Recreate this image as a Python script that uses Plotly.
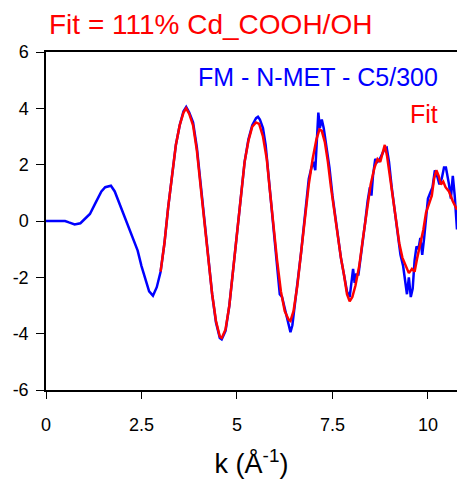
import plotly.graph_objects as go

# measured chi(k) - blue
k_data = [0.0, 0.5, 0.6, 0.75, 0.9, 1.0, 1.15, 1.3, 1.45, 1.55, 1.7, 1.8, 1.9, 2.0, 2.1, 2.2,
          2.3, 2.4, 2.5, 2.6, 2.7, 2.8, 2.9, 3.0, 3.1, 3.2, 3.3, 3.4, 3.5, 3.6, 3.67, 3.75,
          3.85, 3.95, 4.05, 4.15, 4.25, 4.35, 4.45, 4.55, 4.6, 4.7, 4.8, 4.9, 5.0, 5.1, 5.2,
          5.3, 5.4, 5.5, 5.55, 5.6, 5.68, 5.75, 5.82, 5.9, 5.98, 6.05, 6.12, 6.18, 6.25, 6.32,
          6.4, 6.45, 6.52, 6.6, 6.68, 6.75, 6.8, 6.88, 6.95, 7.0, 7.05, 7.1, 7.13, 7.17, 7.22,
          7.27, 7.35, 7.42, 7.5, 7.57, 7.65, 7.72, 7.8, 7.88, 7.95, 8.0, 8.04, 8.08, 8.12, 8.18,
          8.25, 8.3, 8.36, 8.42, 8.48, 8.52, 8.56, 8.62, 8.68, 8.74, 8.8, 8.86, 8.92, 8.98, 9.05,
          9.12, 9.2, 9.28, 9.35, 9.4, 9.45, 9.5, 9.55, 9.6, 9.65, 9.7, 9.75, 9.8, 9.85, 9.9,
          9.95, 10.0, 10.06, 10.12, 10.18, 10.24, 10.3, 10.36, 10.42, 10.47, 10.55, 10.6, 10.65,
          10.7, 10.76]
chi_data = [0, 0, -0.05, -0.12, -0.08, 0.05, 0.25, 0.65, 1.05, 1.2, 1.25, 1.05, 0.7, 0.35, 0.0, -0.35,
            -0.7, -1.05, -1.6, -2.1, -2.5, -2.65, -2.35, -1.8, -0.8, 0.5, 1.7, 2.7, 3.4, 3.9, 4.05, 3.85,
            3.5, 2.6, 1.3, 0.0, -1.3, -2.6, -3.6, -4.15, -4.2, -3.9, -3.0, -1.7, -0.3, 1.0, 2.1,
            2.9, 3.4, 3.65, 3.7, 3.6, 3.3, 2.7, 1.7, 0.5, -0.7, -1.8, -2.6, -2.7, -3.1, -3.6,
            -3.95, -3.7, -3.0, -2.0, -1.1, -0.2, 0.6, 1.5, 1.9, 2.1, 1.8, 3.5, 3.85, 3.3, 3.6,
            3.3, 2.6, 1.9, 0.9, 0.2, -0.7, -1.3, -1.9, -2.5, -2.7, -2.2, -1.7, -2.2, -1.9, -1.9,
            -1.2, -0.6, 0.0, 0.7, 1.2, 0.9, 1.6, 2.2, 2.1, 2.2, 2.4, 2.55, 2.6, 2.1, 1.2,
            0.4, -0.5, -1.2, -1.6, -2.1, -2.6, -2.0, -2.7, -2.4, -1.4, -0.9, -1.0, -0.6, -1.2, -0.6,
            0.2, 0.8, 1.0, 1.2, 1.8, 1.6, 1.3, 1.5, 1.9, 1.9, 1.3, 0.8, 1.6,
            0.9, -0.3]

# fit - red
k_fit = [3.0, 3.1, 3.2, 3.3, 3.4, 3.5, 3.6, 3.67, 3.75, 3.85, 3.95, 4.05, 4.15, 4.25, 4.35, 4.45,
         4.55, 4.6, 4.7, 4.8, 4.9, 5.0, 5.1, 5.2, 5.3, 5.4, 5.5, 5.58, 5.68, 5.78, 5.86, 5.95,
         6.05, 6.15, 6.25, 6.35, 6.4, 6.48, 6.58, 6.68, 6.78, 6.88, 6.98, 7.08, 7.16, 7.22, 7.3,
         7.38, 7.46, 7.55, 7.64, 7.72, 7.8, 7.88, 7.95, 8.02, 8.1, 8.2, 8.3, 8.4, 8.5, 8.6,
         8.68, 8.75, 8.82, 8.87, 8.93, 9.0, 9.08, 9.16, 9.25, 9.33, 9.42, 9.5, 9.58, 9.65, 9.72,
         9.8, 9.88, 9.95, 10.02, 10.1, 10.16, 10.22, 10.28, 10.34, 10.4, 10.46, 10.55, 10.65, 10.76]
chi_fit = [-1.8, -0.8, 0.5, 1.7, 2.7, 3.4, 3.85, 4.0, 3.8, 3.4, 2.5, 1.2, -0.1, -1.4, -2.6, -3.55,
           -4.1, -4.15, -3.85, -3.0, -1.7, -0.3, 1.0, 2.1, 2.85, 3.35, 3.5, 3.45, 3.0, 2.2, 1.1, -0.1,
           -1.4, -2.5, -3.2, -3.5, -3.55, -3.2, -2.3, -1.1, 0.2, 1.3, 2.2, 2.9, 3.25, 3.2, 2.8,
           2.1, 1.2, 0.3, -0.6, -1.3, -1.9, -2.6, -2.85, -2.7, -2.3, -1.6, -0.6, 0.4, 1.3, 1.9,
           2.2, 2.1, 2.4, 2.7, 2.3, 1.6, 0.8, 0.0, -0.8, -1.3, -1.6, -1.85, -1.7, -1.8, -1.3,
           -0.8, -0.3, 0.3, 0.6, 0.9, 1.5, 1.8, 1.6, 1.3, 1.4, 1.2, 1.05, 0.7, 0.4]

xticks = [0, 2.5, 5, 7.5, 10]
xlabels = ['0', '2.5', '5', '7.5', '10']
yticks = [-6, -4, -2, 0, 2, 4, 6]
ylabels = ['-6', '-4', '-2', '0', '2', '4', '6']

fig = go.Figure()
fig.add_trace(go.Scatter(x=k_data, y=chi_data, mode='lines',
                         line=dict(color='#0000ff', width=2.5), name='FM - N-MET - C5/300'))
fig.add_trace(go.Scatter(x=k_fit, y=chi_fit, mode='lines',
                         line=dict(color='#ff0000', width=2.5), name='Fit'))

font = 'Liberation Sans, Arial, sans-serif'
fig.update_layout(
    width=457, height=479,
    margin=dict(l=46, r=0, t=52, b=89),
    plot_bgcolor='white', paper_bgcolor='white',
    showlegend=False,
    font=dict(family=font, color='black', size=18),
    title=dict(text='Fit = 111% Cd_COOH/OH', font=dict(size=28, color='#ff0000'),
               x=49/457, xanchor='left', y=1-24/479, yanchor='middle', automargin=False),
)
fig.update_xaxes(range=[0, 10.76], tickvals=xticks, ticktext=xlabels, automargin=False,
                 ticks='outside', ticklen=7, tickcolor='black', showline=True, linecolor='black',
                 linewidth=1.5, mirror=True, showgrid=False, zeroline=False,
                 tickfont=dict(size=18), ticklabelstandoff=11,
                 title=dict(text='k (Å<sup>-1</sup>)', font=dict(size=27), standoff=20))
fig.update_yaxes(range=[-6, 6], tickvals=yticks, ticktext=ylabels, automargin=False,
                 ticks='outside', ticklen=8, tickcolor='black', ticklabelstandoff=4,
                 showline=True, linecolor='black', linewidth=1.5, showgrid=False, zeroline=False,
                 tickfont=dict(size=18))

fig.add_annotation(text='FM - N-MET - C5/300', x=0.9586, y=0.926, xref='paper', yref='paper',
                   xanchor='right', yanchor='middle', showarrow=False,
                   font=dict(size=25, color='#0000ff'))
fig.add_annotation(text='Fit', x=0.9586, y=0.817, xref='paper', yref='paper',
                   xanchor='right', yanchor='middle', showarrow=False,
                   font=dict(size=25, color='#ff0000'))

# page body has a default margin; remove it so the figure sits at the window corner
fig.write_html("out.html", config={'displayModeBar': False},
               post_script="document.body.style.margin='0';")
